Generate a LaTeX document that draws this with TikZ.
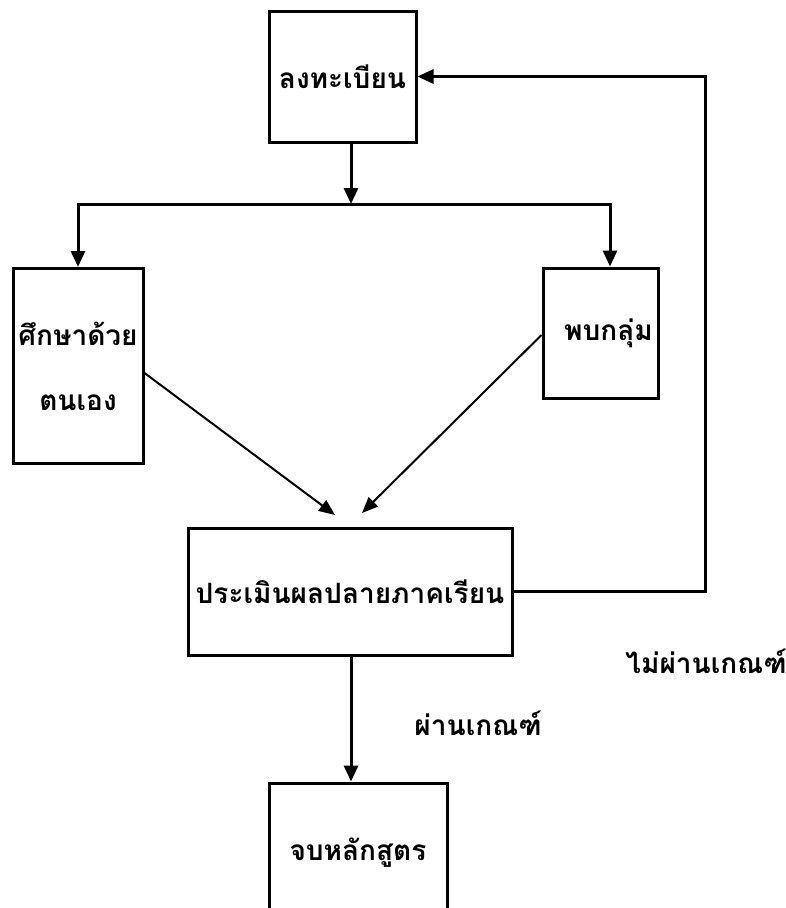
\documentclass[tikz,border=0pt]{standalone}
\usepackage{fontspec}
\newfontfamily\thaifont[Script=Thai]{Loma}
\usetikzlibrary{arrows.meta}
\begin{document}
\begin{tikzpicture}
        [x=1pt, y=-1pt,
        box/.style={rectangle, draw, line width=3pt, inner sep=0pt, align=center, font=\thaifont\bfseries\fontsize{28}{65}\selectfont},
        link/.style={line width=3pt, -{Triangle[length=16pt,width=14pt]}},
        slant/.style={line width=2pt, -{Triangle[length=16pt,width=13pt]}},
        tag/.style={font=\thaifont\bfseries\fontsize{28}{32}\selectfont}]
        \useasboundingbox (0,0) rectangle (785,908);

        \node[box, minimum width=147, minimum height=131] (reg) at (342.5,76.5) {ลงทะเบียน};
        \node[box, minimum width=130, minimum height=195] (self) at (78,366) {ศึกษาด้วย\\ตนเอง};
        \node[box, minimum width=115, minimum height=130] (group) at (600.5,333) {\hspace*{16pt}พบกลุ่ม};
        \node[box, minimum width=324, minimum height=127] (eval) at (350,591.5) {ประเมินผลปลายภาคเรียน};
        \node[box, minimum width=178, minimum height=140] (done) at (358,853) {จบหลักสูตร};

        \node[tag] (pass) at (478,723) {ผ่านเกณฑ์};
        \node[tag] (fail) at (706,661) {ไม่ผ่านเกณฑ์};

        \coordinate (split) at (351,204);
        \coordinate (back) at (705,76.5);
        \coordinate (inL) at (335,515);
        \coordinate (inR) at (362,513);

        \draw[link] ([xshift=8.5pt]reg.south) -- (split);
        \draw[link] (split) -| (self.north);
        \draw[link] (split) -| ([xshift=9.5pt]group.north);

        \draw[slant] ([yshift=-7pt]self.east) -- (inL);
        \draw[slant] ([yshift=-2pt]group.west) -- (inR);

        \draw[link] (eval.east) -| (back) -- (reg.east);
        \draw[link] ([xshift=1pt]eval.south) -- ([xshift=1pt]eval.south |- done.north);

    \end{tikzpicture}
\end{document}
